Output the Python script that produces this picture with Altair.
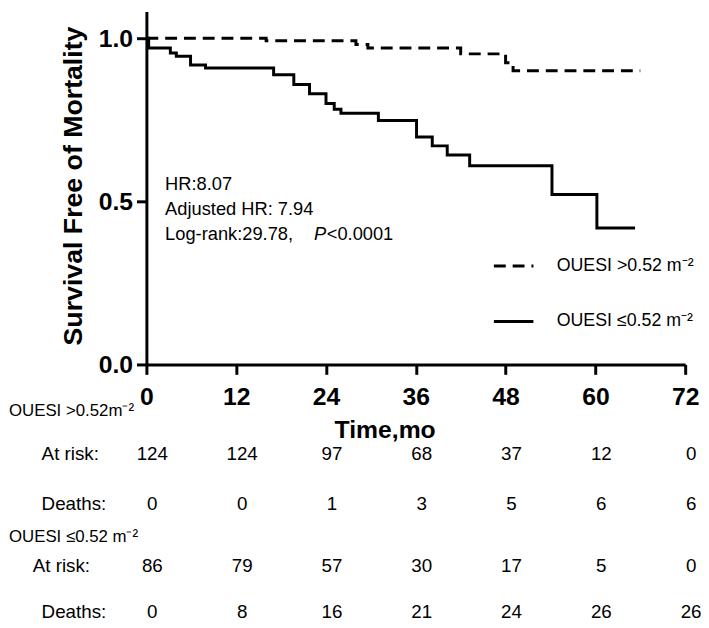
import altair as alt
import pandas as pd

# ---------------- data ----------------
groups = ["OUESI >0.52 m⁻²", "OUESI ≤0.52 m⁻²"]

high_t = [0, 16.0, 28.0, 29.6, 42.0, 48.0, 49.0, 66.0]
high_s = [1.0, 0.992, 0.981, 0.970, 0.952, 0.925, 0.900, 0.900]

low_t = [0, 0.3, 3.2, 4.0, 5.9, 7.9, 17.0, 19.7, 21.8, 24.0, 25.1, 26.0,
         31.0, 36.1, 38.2, 40.2, 43.2, 54.2, 60.2, 65.3]
low_s = [1.0, 0.970, 0.955, 0.945, 0.918, 0.909, 0.888, 0.858, 0.830, 0.800,
         0.782, 0.770, 0.748, 0.697, 0.670, 0.642, 0.609, 0.521, 0.418, 0.418]

table_times = [0, 12, 24, 36, 48, 60, 72]
high_at_risk = [124, 124, 97, 68, 37, 12, 0]
high_deaths = [0, 0, 1, 3, 5, 6, 6]
low_at_risk = [86, 79, 57, 30, 17, 5, 0]
low_deaths = [0, 8, 16, 21, 24, 26, 26]

table_headers = ["OUESI >0.52m⁻²", "OUESI ≤0.52 m⁻²"]
row_labels = ["At risk:", "Deaths:", "At risk:", "Deaths:"]
stats_lines = ["HR:8.07", "Adjusted HR: 7.94", "Log-rank:29.78,"]
p_label = "P"
p_value = "<0.0001"

# ---------------- layout / style constants ----------------
FONT = "Liberation Sans, Arial, sans-serif"
W, H = 545, 357
Y_TOP = 1.0818
STATS_X = 2.5
STATS_Y = [0.536, 0.458, 0.382]
P_X, PV_X = 22.4, 24.1
ROW_Y = [448, 498, 561, 607]          # pixel rows of the risk table (plot coords)
ROW_LABEL_X = [-106, -106, -115, -106]
HEADER_Y = [404, 532]
HEADER_X = -139

curve_df = pd.concat([
    pd.DataFrame({"t": high_t, "s": high_s, "group": groups[0]}),
    pd.DataFrame({"t": low_t, "s": low_s, "group": groups[1]}),
])

x_scale = alt.Scale(domain=[0, 72], nice=False, zero=False)
y_scale = alt.Scale(domain=[0, Y_TOP], nice=False)

curves = alt.Chart(curve_df).mark_line(
    interpolate="step-after", strokeWidth=3, color="black"
).encode(
    x=alt.X("t:Q", scale=x_scale,
            axis=alt.Axis(values=table_times, format="d", title="Time,mo",
                          labelFlush=False, labelPadding=11,
                          titleX=241, titleY=66, titleBaseline="middle",
                          titleAlign="center")),
    y=alt.Y("s:Q", scale=y_scale,
            axis=alt.Axis(values=[0, 0.5, 1.0], format=".1f",
                          title="Survival Free of Mortality",
                          labelPadding=4, titleX=-74, titleY=176,
                          titleBaseline="middle", titleAlign="center",
                          titleFontSize=27)),
    strokeDash=alt.StrokeDash(
        "group:N",
        scale=alt.Scale(domain=groups, range=[[12, 7], [1, 0]]),
        legend=alt.Legend(title=None, orient="none", legendX=350, legendY=236,
                          symbolType="stroke", symbolSize=1600,
                          symbolStrokeWidth=3, symbolStrokeColor="black",
                          labelFontSize=18, labelFont=FONT, labelColor="black",
                          labelOffset=22, rowPadding=25),
    ),
    order="t:Q",
)

stats_df = pd.DataFrame({"t": [STATS_X] * 3, "s": STATS_Y, "label": stats_lines})
stats = alt.Chart(stats_df).mark_text(
    align="left", baseline="alphabetic", fontSize=18.5, font=FONT, color="black"
).encode(x=alt.X("t:Q", scale=x_scale), y=alt.Y("s:Q", scale=y_scale), text="label:N")

p_df = pd.DataFrame({"t": [P_X], "s": [STATS_Y[2]], "label": [p_label]})
p_text = alt.Chart(p_df).mark_text(
    align="left", baseline="alphabetic", fontSize=18.5, font=FONT,
    fontStyle="italic", color="black"
).encode(x=alt.X("t:Q", scale=x_scale), y=alt.Y("s:Q", scale=y_scale), text="label:N")

pv_df = pd.DataFrame({"t": [PV_X], "s": [STATS_Y[2]], "label": [p_value]})
pv_text = alt.Chart(pv_df).mark_text(
    align="left", baseline="alphabetic", fontSize=18.5, font=FONT, color="black"
).encode(x=alt.X("t:Q", scale=x_scale), y=alt.Y("s:Q", scale=y_scale), text="label:N")

layers = [curves, stats, p_text, pv_text]

# risk table
rows = [high_at_risk, high_deaths, low_at_risk, low_deaths]
for vals, ry, lbl, lx in zip(rows, ROW_Y, row_labels, ROW_LABEL_X):
    df = pd.DataFrame({"t": table_times, "v": [str(v) for v in vals]})
    layers.append(
        alt.Chart(df).mark_text(fontSize=19, font=FONT, color="black",
                                baseline="middle", dx=6)
        .encode(x=alt.X("t:Q", scale=x_scale), y=alt.value(ry), text="v:N")
    )
    layers.append(
        alt.Chart(pd.DataFrame({"label": [lbl]})).mark_text(
            fontSize=19, font=FONT, color="black", baseline="middle", align="left"
        ).encode(x=alt.value(lx), y=alt.value(ry), text="label:N")
    )

for hdr, hy in zip(table_headers, HEADER_Y):
    layers.append(
        alt.Chart(pd.DataFrame({"label": [hdr]})).mark_text(
            fontSize=17, font=FONT, color="black", baseline="middle", align="left"
        ).encode(x=alt.value(HEADER_X), y=alt.value(hy), text="label:N")
    )

chart = alt.layer(*layers).properties(
    width=W, height=H,
    background="white",
    autosize=alt.AutoSizeParams(type="none"),
    padding={"left": 140, "top": 0, "right": 16, "bottom": 261},
).configure_view(stroke=None).configure_axis(
    domainColor="black", domainWidth=3, tickColor="black", tickWidth=3,
    tickSize=10, grid=False, labelFont=FONT, labelFontSize=25,
    labelFontWeight="bold", labelColor="black", titleFont=FONT,
    titleFontSize=25, titleFontWeight="bold", titleColor="black",
    labelOverlap=False,
)

chart.save("out.html", embed_options={"renderer": "svg", "actions": False})
